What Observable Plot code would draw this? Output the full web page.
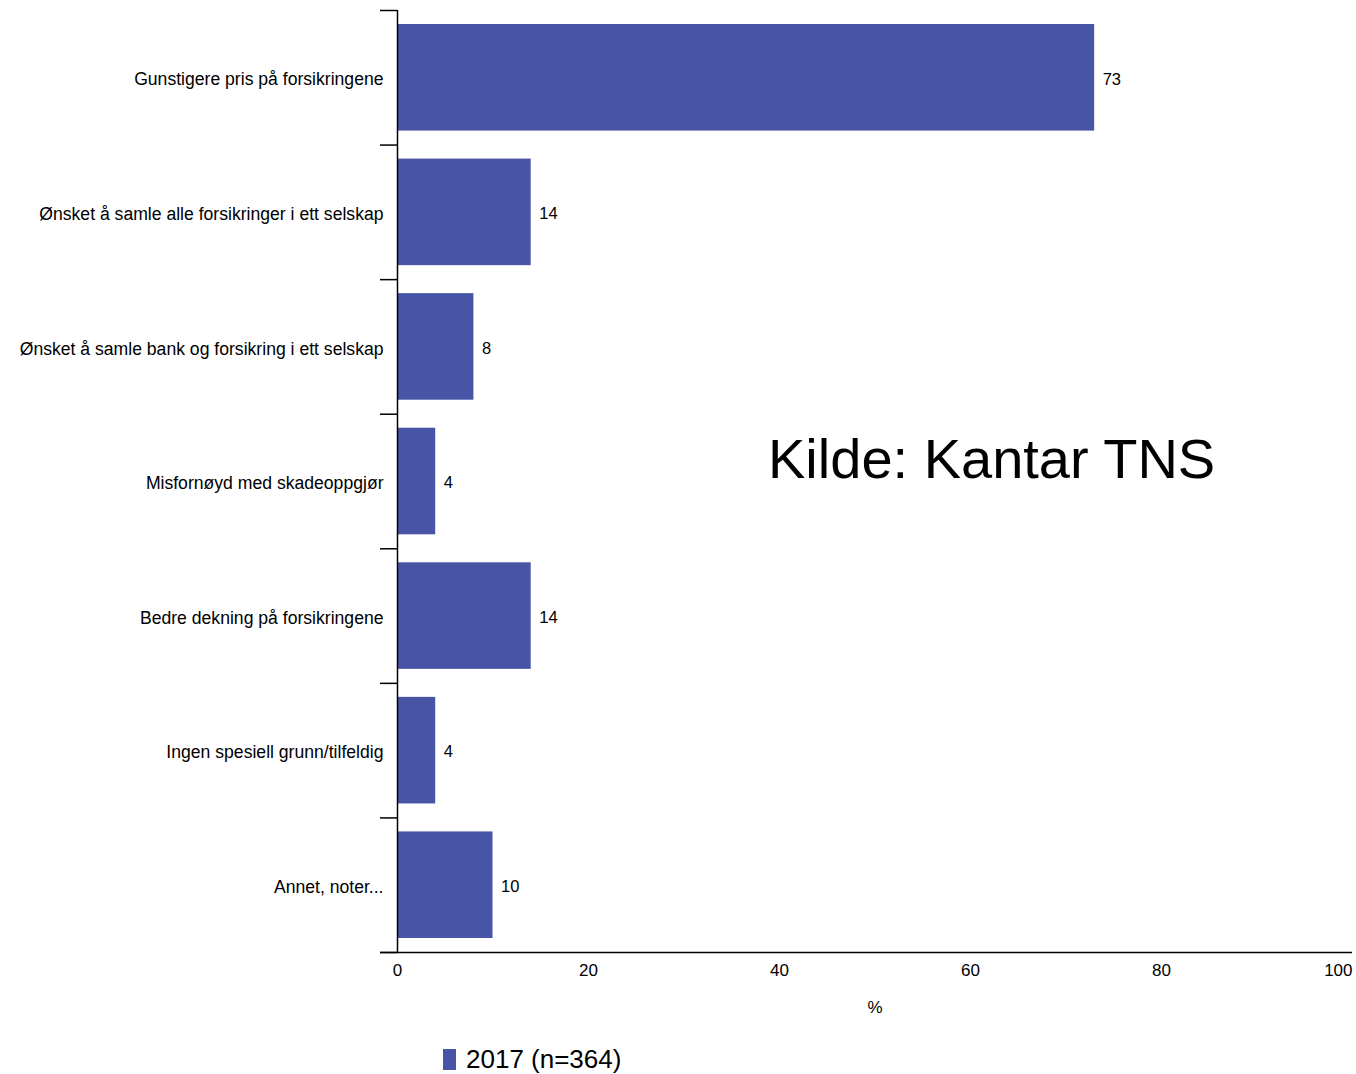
<!DOCTYPE html>
<html>
<head>
<meta charset="utf-8">
<script src="https://cdn.jsdelivr.net/npm/d3@7"></script>
<script src="https://cdn.jsdelivr.net/npm/@observablehq/plot@0.6"></script>
<style>
  body { margin: 0; background: #fff; font-family: Arial, "Liberation Sans", sans-serif; }
  #wrap { position: relative; width: 1356px; height: 1074px; }
  #source { position: absolute; left: 768px; top: 431px; font-size: 56px; color: #000; white-space: nowrap; line-height: 1; }
  #legend { position: absolute; left: 443px; top: 1044px; display: flex; align-items: center; font-size: 26px; color: #000; white-space: nowrap; }
  #legend .sw { display: inline-block; width: 13px; height: 21px; margin-right: 10px; }
</style>
</head>
<body>
<div id="wrap">
  <div id="chart"></div>
  <div id="source"></div>
  <div id="legend"><span class="sw"></span><span class="lbl"></span></div>
</div>
<script>
const categories = [
  "Gunstigere pris på forsikringene",
  "Ønsket å samle alle forsikringer i ett selskap",
  "Ønsket å samle bank og forsikring i ett selskap",
  "Misfornøyd med skadeoppgjør",
  "Bedre dekning på forsikringene",
  "Ingen spesiell grunn/tilfeldig",
  "Annet, noter..."
];
const values = [73, 14, 8, 4, 14, 4, 10];
const seriesName = "2017 (n=364)";
const xTicks = [0, 20, 40, 60, 80, 100];
const xLabel = "%";
const sourceText = "Kilde: Kantar TNS";
const barColor = "#4855a6";

const data = categories.map((c, i) => ({category: c, value: values[i], i}));
const n = categories.length;

const chart = Plot.plot({
  width: 1356,
  height: 1030,
  marginLeft: 397,
  marginRight: 4,
  marginTop: 10,
  marginBottom: 78,
  style: {fontFamily: "Arial, 'Liberation Sans', sans-serif", color: "#000", background: "#fff"},
  x: {domain: [0, 100]},
  y: {domain: [0, n], reverse: true, axis: null},
  marks: [
    Plot.rect(data, {x1: 0, x2: "value", y1: "i", y2: d => d.i + 1, insetTop: 14, insetBottom: 14, fill: barColor}),
    Plot.text(data, {x: "value", y: d => d.i + 0.5, text: d => String(d.value), textAnchor: "start", dx: 8, dy: 1.5, fontSize: 16.5, fill: "#000"}),
    Plot.text(data, {x: 0, y: d => d.i + 0.5, text: "category", textAnchor: "end", dx: -14, dy: 2, fontSize: 17.6, fill: "#000"}),
    Plot.axisY({ticks: d3.range(n + 1), tickSize: 17, tickFormat: () => "", strokeWidth: 1.5, label: null}),
    Plot.ruleX([0], {strokeWidth: 1.5}),
    Plot.ruleY([n], {insetLeft: -17, strokeWidth: 1.5}),
    Plot.axisX({ticks: xTicks.slice(0, -1), tickSize: 0, tickPadding: 11, fontSize: 17, label: xLabel, labelAnchor: "center", labelArrow: "none", labelOffset: 60}),
    Plot.axisX({ticks: xTicks.slice(-1), tickSize: 0, tickPadding: 11, fontSize: 17, textAnchor: "end", label: null})
  ]
});
document.getElementById("chart").appendChild(chart);
document.getElementById("source").textContent = sourceText;
document.querySelector("#legend .sw").style.background = barColor;
document.querySelector("#legend .lbl").textContent = seriesName;
</script>
</body>
</html>
